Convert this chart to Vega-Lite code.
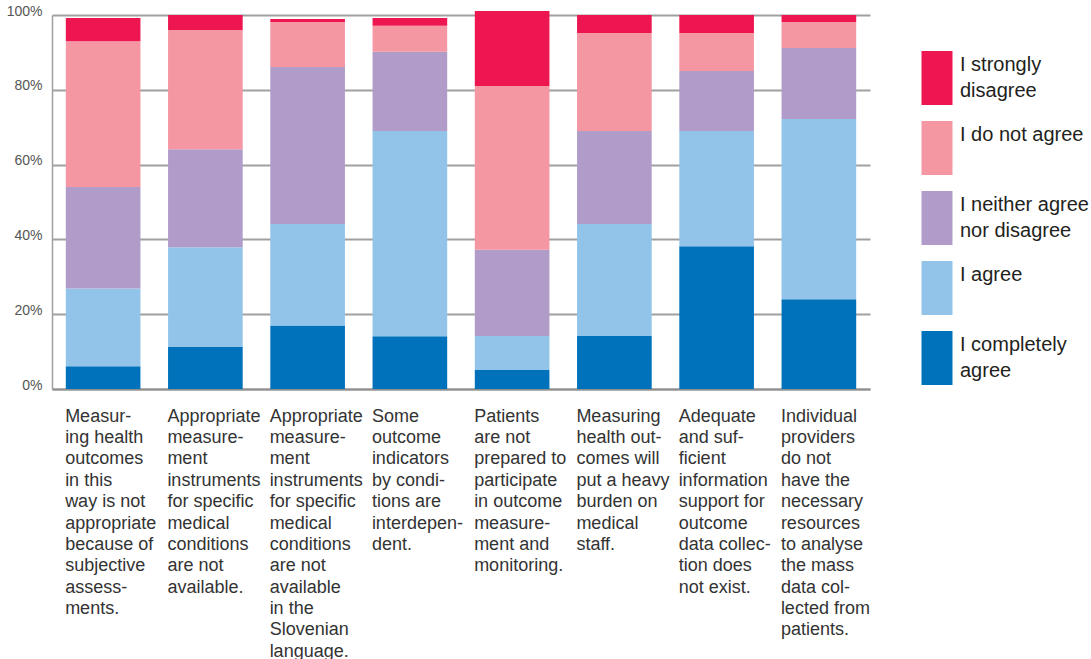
{
  "$schema": "https://vega.github.io/schema/vega-lite/v6.json",
  "autosize": {"type": "none"},
  "padding": {"left": 52, "top": 15, "right": 221, "bottom": 270},
  "width": 818,
  "height": 374,
  "background": "white",
  "datasets": {
    "questions": [
      {"q": 1, "label": "Measur-|ing health|outcomes|in this|way is not|appropriate|because of|subjective|assess-|ments."},
      {"q": 2, "label": "Appropriate|measure-|ment|instruments|for specific|medical|conditions|are not|available."},
      {"q": 3, "label": "Appropriate|measure-|ment|instruments|for specific|medical|conditions|are not|available|in the|Slovenian|language."},
      {"q": 4, "label": "Some|outcome|indicators|by condi-|tions are|interdepen-|dent."},
      {"q": 5, "label": "Patients|are not|prepared to|participate|in outcome|measure-|ment and|monitoring."},
      {"q": 6, "label": "Measuring|health out-|comes will|put a heavy|burden on|medical|staff."},
      {"q": 7, "label": "Adequate|and suf-|ficient|information|support for|outcome|data collec-|tion does|not exist."},
      {"q": 8, "label": "Individual|providers|do not|have the|necessary|resources|to analyse|the mass|data col-|lected from|patients."}
    ],
    "answers": [
      {"q": 1, "k": 1, "r": "I completely agree", "v": 6.1},
      {"q": 1, "k": 2, "r": "I agree", "v": 20.8},
      {"q": 1, "k": 3, "r": "I neither agree nor disagree", "v": 27.1},
      {"q": 1, "k": 4, "r": "I do not agree", "v": 39.0},
      {"q": 1, "k": 5, "r": "I strongly disagree", "v": 6.2},
      {"q": 2, "k": 1, "r": "I completely agree", "v": 11.2},
      {"q": 2, "k": 2, "r": "I agree", "v": 26.7},
      {"q": 2, "k": 3, "r": "I neither agree nor disagree", "v": 26.2},
      {"q": 2, "k": 4, "r": "I do not agree", "v": 31.9},
      {"q": 2, "k": 5, "r": "I strongly disagree", "v": 4.0},
      {"q": 3, "k": 1, "r": "I completely agree", "v": 17.0},
      {"q": 3, "k": 2, "r": "I agree", "v": 27.1},
      {"q": 3, "k": 3, "r": "I neither agree nor disagree", "v": 42.0},
      {"q": 3, "k": 4, "r": "I do not agree", "v": 12.0},
      {"q": 3, "k": 5, "r": "I strongly disagree", "v": 0.8},
      {"q": 4, "k": 1, "r": "I completely agree", "v": 14.1},
      {"q": 4, "k": 2, "r": "I agree", "v": 54.9},
      {"q": 4, "k": 3, "r": "I neither agree nor disagree", "v": 21.2},
      {"q": 4, "k": 4, "r": "I do not agree", "v": 6.9},
      {"q": 4, "k": 5, "r": "I strongly disagree", "v": 2.1},
      {"q": 5, "k": 1, "r": "I completely agree", "v": 5.1},
      {"q": 5, "k": 2, "r": "I agree", "v": 9.1},
      {"q": 5, "k": 3, "r": "I neither agree nor disagree", "v": 23.0},
      {"q": 5, "k": 4, "r": "I do not agree", "v": 43.8},
      {"q": 5, "k": 5, "r": "I strongly disagree", "v": 20.1},
      {"q": 6, "k": 1, "r": "I completely agree", "v": 14.2},
      {"q": 6, "k": 2, "r": "I agree", "v": 29.9},
      {"q": 6, "k": 3, "r": "I neither agree nor disagree", "v": 24.9},
      {"q": 6, "k": 4, "r": "I do not agree", "v": 26.2},
      {"q": 6, "k": 5, "r": "I strongly disagree", "v": 4.8},
      {"q": 7, "k": 1, "r": "I completely agree", "v": 38.2},
      {"q": 7, "k": 2, "r": "I agree", "v": 30.8},
      {"q": 7, "k": 3, "r": "I neither agree nor disagree", "v": 16.0},
      {"q": 7, "k": 4, "r": "I do not agree", "v": 10.2},
      {"q": 7, "k": 5, "r": "I strongly disagree", "v": 4.8},
      {"q": 8, "k": 1, "r": "I completely agree", "v": 24.0},
      {"q": 8, "k": 2, "r": "I agree", "v": 48.2},
      {"q": 8, "k": 3, "r": "I neither agree nor disagree", "v": 19.0},
      {"q": 8, "k": 4, "r": "I do not agree", "v": 6.9},
      {"q": 8, "k": 5, "r": "I strongly disagree", "v": 1.9}
    ]
  },
  "data": {"name": "answers"},
  "transform": [
    {"lookup": "q", "from": {"data": {"name": "questions"}, "key": "q", "fields": ["label"]}}
  ],
  "mark": {"type": "bar", "clip": false},
  "encoding": {
    "x": {
      "field": "label",
      "type": "nominal",
      "sort": {"field": "q", "op": "min"},
      "scale": {"paddingInner": 0.27, "paddingOuter": 0.135},
      "axis": {
        "title": null,
        "ticks": false,
        "domain": true,
        "domainColor": "#8f8f8f",
        "domainWidth": 2,
        "labelAngle": 0,
        "labelAlign": "left",
        "labelBaseline": "top",
        "labelOffset": -38,
        "labelPadding": 18,
        "labelFont": "Liberation Sans",
        "labelFontSize": 18,
        "labelLineHeight": 21.4,
        "labelColor": "#333333",
        "labelLimit": 0,
        "labelOverlap": false,
        "labelBound": false,
        "labelFlush": false,
        "labelExpr": "split(datum.label, '|')"
      }
    },
    "y": {
      "field": "v",
      "type": "quantitative",
      "stack": "zero",
      "scale": {"domain": [0, 100], "nice": false},
      "axis": {
        "title": null,
        "values": [0, 20, 40, 60, 80, 100],
        "labelExpr": "datum.value + '%'",
        "ticks": false,
        "domain": true,
        "domainColor": "#a0a0a0",
        "domainWidth": 1.5,
        "grid": true,
        "gridColor": "#a0a0a0",
        "gridWidth": 2,
        "labelFont": "Liberation Sans",
        "labelFontSize": 14,
        "labelColor": "#555555",
        "labelPadding": 10,
        "labelOffset": -4
      }
    },
    "color": {
      "field": "r",
      "type": "nominal",
      "scale": {
        "domain": ["I strongly disagree", "I do not agree", "I neither agree nor disagree", "I agree", "I completely agree"],
        "range": ["#ED1651", "#F497A2", "#B19CC9", "#92C4EA", "#0072BB"]
      },
      "legend": {
        "title": null,
        "orient": "none",
        "legendX": 858,
        "legendY": 23,
        "padding": 0,
        "symbolType": "M-0.574,-0.52L0.574,-0.52L0.574,1.48L-0.574,1.48Z",
        "symbolSize": 2916,
        "symbolStrokeWidth": 0,
        "symbolOpacity": 1,
        "labelFont": "Liberation Sans",
        "labelFontSize": 20,
        "labelColor": "#231f20",
        "labelLimit": 0,
        "labelOffset": -4,
        "rowPadding": 3,
        "labelExpr": "datum.label == 'I strongly disagree' ? ['I strongly', 'disagree'] : datum.label == 'I neither agree nor disagree' ? ['I neither agree', 'nor disagree'] : datum.label == 'I completely agree' ? ['I completely', 'agree'] : [datum.label, ' ']",
        "encode": {
          "labels": {"update": {"lineHeight": {"value": 26}}}
        }
      }
    },
    "order": {"field": "k", "type": "quantitative"}
  },
  "config": {"view": {"stroke": null}}
}
